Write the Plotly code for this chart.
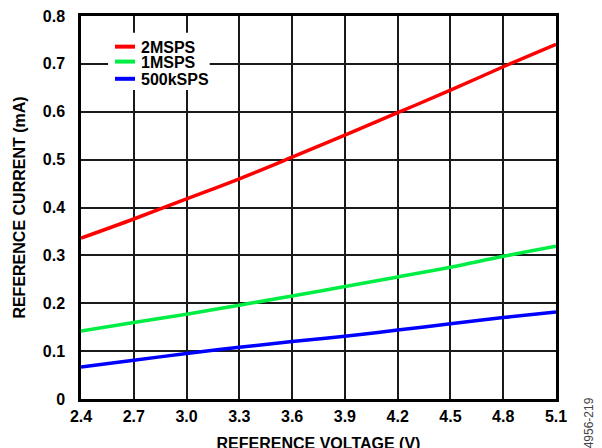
import plotly.graph_objects as go

voltage = [2.4, 2.7, 3.0, 3.3, 3.6, 3.9, 4.2, 4.5, 4.8, 5.1]
i_2msps = [0.336, 0.376, 0.418, 0.460, 0.505, 0.551, 0.598, 0.645, 0.694, 0.741]
i_1msps = [0.142, 0.160, 0.177, 0.196, 0.215, 0.235, 0.255, 0.275, 0.298, 0.319]
i_500ksps = [0.067, 0.081, 0.095, 0.108, 0.120, 0.131, 0.144, 0.157, 0.170, 0.182]

series_names = ["2MSPS", "1MSPS", "500kSPS"]
series_values = [i_2msps, i_1msps, i_500ksps]
series_colors = ["#ff0000", "#00ee44", "#0000ff"]

x_ticks = [2.4, 2.7, 3.0, 3.3, 3.6, 3.9, 4.2, 4.5, 4.8, 5.1]
x_tick_text = ["2.4", "2.7", "3.0", "3.3", "3.6", "3.9", "4.2", "4.5", "4.8", "5.1"]
y_ticks = [0, 0.1, 0.2, 0.3, 0.4, 0.5, 0.6, 0.7, 0.8]
y_tick_text = ["0", "0.1", "0.2", "0.3", "0.4", "0.5", "0.6", "0.7", "0.8"]

FONT = "Liberation Sans, Arial, sans-serif"
FS = 16

fig = go.Figure()
for name, ys, col in zip(series_names, series_values, series_colors):
    fig.add_trace(go.Scatter(x=voltage, y=ys, mode="lines", name=name,
                             line=dict(color=col, width=3.5, shape="spline"),
                             showlegend=False))

axis_common = dict(showgrid=True, gridcolor="#1a1a1a", gridwidth=1.5,
                   showline=True, linecolor="black", linewidth=2.5, mirror=True,
                   ticks="", zeroline=False, automargin=False,
                   ticklabeloverflow="allow",
                   tickfont=dict(family=FONT, size=FS, color="black"))

fig.update_xaxes(range=[2.4, 5.1], tickvals=x_ticks,
                 ticktext=["<b>%s</b>" % t for t in x_tick_text],
                 ticklabelstandoff=1,
                 title=dict(text="<b>REFERENCE VOLTAGE (V)</b>", standoff=14,
                            font=dict(family=FONT, size=FS, color="black")),
                 **axis_common)
fig.update_yaxes(range=[0, 0.8], tickvals=y_ticks,
                 ticktext=["<b>%s</b>" % t for t in y_tick_text],
                 ticklabelstandoff=10,
                 title=dict(text="<b>REFERENCE CURRENT (mA)</b>", standoff=14,
                            font=dict(family=FONT, size=FS, color="black")),
                 **axis_common)

fig.update_layout(
    width=602, height=448,
    margin=dict(l=73, r=54, t=8, b=57),
    paper_bgcolor="white", plot_bgcolor="white",
    font=dict(family=FONT, color="black"),
    showlegend=False,
)

# custom legend (white box, short line samples, bold labels)
fig.add_shape(type="rect", xref="paper", yref="paper",
              x0=0.057, x1=0.271, y0=0.807, y1=0.956,
              fillcolor="white", line=dict(width=0), layer="above")
leg_y = [0.920, 0.881, 0.836]
for name, col, yy in zip(series_names, series_colors, leg_y):
    fig.add_shape(type="line", xref="paper", yref="paper",
                  x0=0.0716, x1=0.1137, y0=yy, y1=yy,
                  line=dict(color=col, width=4), layer="above")
    fig.add_annotation(text="<b>%s</b>" % name, xref="paper", yref="paper",
                       x=0.1221, y=yy, xanchor="left", yanchor="middle",
                       height=14, valign="middle", showarrow=False,
                       font=dict(family=FONT, size=FS, color="black"))

fig.add_annotation(text="04956-219", xref="paper", yref="paper",
                   x=1.0695, y=0.0104, xanchor="center", yanchor="top",
                   textangle=-90, showarrow=False,
                   font=dict(family=FONT, size=12, color="#444444"))

fig.write_html("out.html")
